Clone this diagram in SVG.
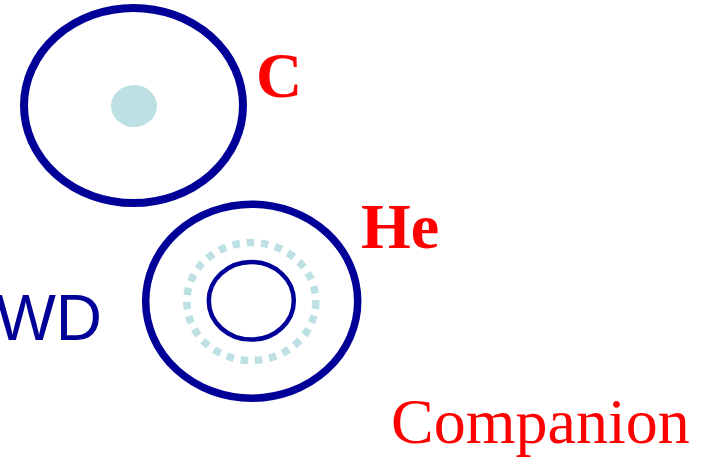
<svg xmlns="http://www.w3.org/2000/svg" width="704" height="460" viewBox="0 0 704 460">
<style>
.ring{fill:none;stroke:#000099}
.lbl{fill:#ff0000;font-family:"Liberation Serif","Times New Roman",serif}
</style>
<rect width="704" height="460" fill="#ffffff"/>
<g id="c-star">
<ellipse class="ring" cx="133.5" cy="105.5" rx="109.5" ry="97.5" stroke-width="8"/>
<ellipse cx="134" cy="106" rx="23" ry="21" fill="#bde0e4"/>
<text class="lbl" x="256" y="97" font-size="64" font-weight="bold">C</text>
</g>
<g id="he-star">
<ellipse class="ring" cx="251.7" cy="301.2" rx="106" ry="97" stroke-width="7.5"/>
<ellipse cx="251.3" cy="301.5" rx="64.5" ry="59" fill="none" stroke="#bde0e4" stroke-width="7.5" stroke-dasharray="7.5 6.8"/>
<ellipse class="ring" cx="251.3" cy="300.8" rx="42.5" ry="38.8" stroke-width="4.5"/>
<text class="lbl" x="361" y="248" font-size="64" font-weight="bold">He</text>
</g>
<g id="wd">
<text x="102" y="340" font-size="64" text-anchor="end" fill="#000099" font-family="Liberation Sans, Arial, sans-serif">WD</text>
</g>
<g id="companion">
<text class="lbl" x="391" y="443" font-size="64">Companion</text>
</g>
<g id="connectors"></g>
</svg>
